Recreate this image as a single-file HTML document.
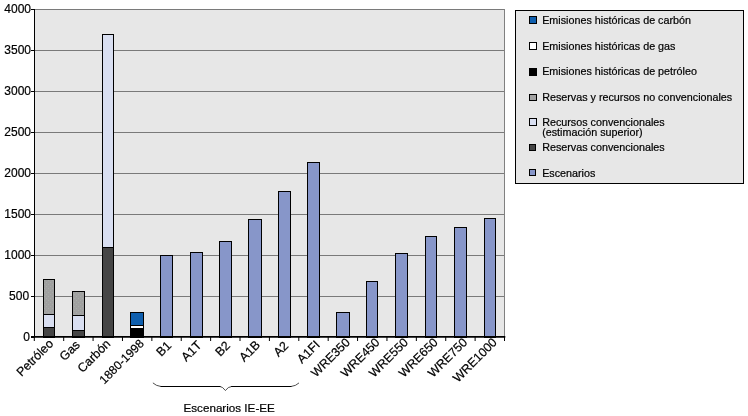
<!DOCTYPE html>
<html lang="es"><head><meta charset="utf-8"><title>Escenarios IE-EE</title>
<style>html,body{margin:0;padding:0;background:#fff;overflow:hidden}svg{will-change:transform}svg text{font-family:"Liberation Sans",Arial,sans-serif;fill:#000;stroke:#000;stroke-width:0.2px}</style></head>
<body>
<svg width="748" height="416" viewBox="0 0 748 416" style="display:block">
<defs><pattern id="dots" width="4" height="4" patternUnits="userSpaceOnUse"><rect width="4" height="4" fill="#a0a0a0"/><rect x="0" y="0" width="1" height="1" fill="#a7aea7"/><rect x="2" y="2" width="1" height="1" fill="#a7aea7"/></pattern></defs>
<rect x="0" y="0" width="748" height="416" fill="#ffffff"/>
<rect x="34" y="9" width="471" height="328" fill="#e7e7e7"/>
<rect x="34" y="296" width="471" height="1" fill="#7a7a7a"/>
<rect x="34" y="255" width="471" height="1" fill="#7a7a7a"/>
<rect x="34" y="214" width="471" height="1" fill="#7a7a7a"/>
<rect x="34" y="173" width="471" height="1" fill="#7a7a7a"/>
<rect x="34" y="132" width="471" height="1" fill="#7a7a7a"/>
<rect x="34" y="91" width="471" height="1" fill="#7a7a7a"/>
<rect x="34" y="50" width="471" height="1" fill="#7a7a7a"/>
<rect x="34" y="9" width="471" height="1" fill="#7a7a7a"/>
<rect x="504" y="9" width="1" height="328" fill="#808080"/>
<rect x="43.5" y="327.5" width="11" height="10" fill="#454545" stroke="#000" stroke-width="1"/>
<rect x="43.5" y="314.5" width="11" height="13" fill="#d9dff1" stroke="#000" stroke-width="1"/>
<rect x="43.5" y="279.5" width="11" height="35" fill="url(#dots)" stroke="#000" stroke-width="1"/>
<rect x="72.5" y="330.5" width="12" height="7" fill="#454545" stroke="#000" stroke-width="1"/>
<rect x="72.5" y="315.5" width="12" height="15" fill="#d9dff1" stroke="#000" stroke-width="1"/>
<rect x="72.5" y="291.5" width="12" height="24" fill="url(#dots)" stroke="#000" stroke-width="1"/>
<rect x="102.5" y="247.5" width="11" height="90" fill="#454545" stroke="#000" stroke-width="1"/>
<rect x="102.5" y="34.5" width="11" height="213" fill="#d9dff1" stroke="#000" stroke-width="1"/>
<rect x="130.5" y="328.5" width="13" height="9" fill="#000000" stroke="#000" stroke-width="1"/>
<rect x="130.5" y="325.5" width="13" height="3" fill="#ffffff" stroke="#000" stroke-width="1"/>
<rect x="130.5" y="312.5" width="13" height="13" fill="#0f5fae" stroke="#000" stroke-width="1"/>
<rect x="160.5" y="255.5" width="12" height="82" fill="#8796c9" stroke="#000" stroke-width="1"/>
<rect x="190.5" y="252.5" width="12" height="85" fill="#8796c9" stroke="#000" stroke-width="1"/>
<rect x="219.5" y="241.5" width="12" height="96" fill="#8796c9" stroke="#000" stroke-width="1"/>
<rect x="248.5" y="219.5" width="13" height="118" fill="#8796c9" stroke="#000" stroke-width="1"/>
<rect x="278.5" y="191.5" width="12" height="146" fill="#8796c9" stroke="#000" stroke-width="1"/>
<rect x="307.5" y="162.5" width="12" height="175" fill="#8796c9" stroke="#000" stroke-width="1"/>
<rect x="336.5" y="312.5" width="13" height="25" fill="#8796c9" stroke="#000" stroke-width="1"/>
<rect x="366.5" y="281.5" width="11" height="56" fill="#8796c9" stroke="#000" stroke-width="1"/>
<rect x="395.5" y="253.5" width="12" height="84" fill="#8796c9" stroke="#000" stroke-width="1"/>
<rect x="425.5" y="236.5" width="11" height="101" fill="#8796c9" stroke="#000" stroke-width="1"/>
<rect x="454.5" y="227.5" width="12" height="110" fill="#8796c9" stroke="#000" stroke-width="1"/>
<rect x="484.5" y="218.5" width="11" height="119" fill="#8796c9" stroke="#000" stroke-width="1"/>
<rect x="34" y="9" width="1" height="329" fill="#000"/>
<rect x="31" y="336" width="474.3" height="1.75" fill="#000"/>
<rect x="31" y="337" width="3" height="1" fill="#000"/>
<text x="30.0" y="341.0" font-size="12" text-anchor="end">0</text>
<rect x="31" y="296" width="3" height="1" fill="#000"/>
<text x="29.1" y="300.0" font-size="12" text-anchor="end">500</text>
<rect x="31" y="255" width="3" height="1" fill="#000"/>
<text x="31" y="259.0" font-size="12" text-anchor="end">1000</text>
<rect x="31" y="214" width="3" height="1" fill="#000"/>
<text x="31" y="218.0" font-size="12" text-anchor="end">1500</text>
<rect x="31" y="173" width="3" height="1" fill="#000"/>
<text x="31" y="177.0" font-size="12" text-anchor="end">2000</text>
<rect x="31" y="132" width="3" height="1" fill="#000"/>
<text x="31" y="136.0" font-size="12" text-anchor="end">2500</text>
<rect x="31" y="91" width="3" height="1" fill="#000"/>
<text x="31" y="95.0" font-size="12" text-anchor="end">3000</text>
<rect x="31" y="50" width="3" height="1" fill="#000"/>
<text x="31" y="54.0" font-size="12" text-anchor="end">3500</text>
<rect x="31" y="9" width="3" height="1" fill="#000"/>
<text x="31" y="13.0" font-size="12" text-anchor="end">4000</text>
<rect x="33.80" y="337" width="1" height="4" fill="#000"/>
<rect x="63.19" y="337" width="1" height="4" fill="#000"/>
<rect x="92.57" y="337" width="1" height="4" fill="#000"/>
<rect x="121.96" y="337" width="1" height="4" fill="#000"/>
<rect x="151.35" y="337" width="1" height="4" fill="#000"/>
<rect x="180.74" y="337" width="1" height="4" fill="#000"/>
<rect x="210.12" y="337" width="1" height="4" fill="#000"/>
<rect x="239.51" y="337" width="1" height="4" fill="#000"/>
<rect x="268.90" y="337" width="1" height="4" fill="#000"/>
<rect x="298.29" y="337" width="1" height="4" fill="#000"/>
<rect x="327.68" y="337" width="1" height="4" fill="#000"/>
<rect x="357.06" y="337" width="1" height="4" fill="#000"/>
<rect x="386.45" y="337" width="1" height="4" fill="#000"/>
<rect x="415.84" y="337" width="1" height="4" fill="#000"/>
<rect x="445.23" y="337" width="1" height="4" fill="#000"/>
<rect x="474.61" y="337" width="1" height="4" fill="#000"/>
<rect x="504.00" y="337" width="1" height="4" fill="#000"/>
<text x="54.10" y="344.40" font-size="12.4" stroke-width="0.1" text-anchor="end" transform="rotate(-45 54.10 344.40)">Petróleo</text>
<text x="80.69" y="345.50" font-size="12.4" stroke-width="0.1" text-anchor="end" transform="rotate(-45 80.69 345.50)">Gas</text>
<text x="111.18" y="344.50" font-size="12.4" stroke-width="0.1" text-anchor="end" transform="rotate(-45 111.18 344.50)">Carbón</text>
<text x="144.76" y="344.20" font-size="12.0" stroke-width="0.1" text-anchor="end" transform="rotate(-45 144.76 344.20)">1880-1998</text>
<text x="172.05" y="346.40" font-size="12.4" stroke-width="0.1" text-anchor="end" transform="rotate(-45 172.05 346.40)">B1</text>
<text x="202.44" y="346.00" font-size="12.4" stroke-width="0.1" text-anchor="end" transform="rotate(-45 202.44 346.00)">A1T</text>
<text x="230.92" y="346.40" font-size="12.4" stroke-width="0.1" text-anchor="end" transform="rotate(-45 230.92 346.40)">B2</text>
<text x="260.91" y="345.70" font-size="12.4" stroke-width="0.1" text-anchor="end" transform="rotate(-45 260.91 345.70)">A1B</text>
<text x="289.20" y="346.50" font-size="12.4" stroke-width="0.1" text-anchor="end" transform="rotate(-45 289.20 346.50)">A2</text>
<text x="320.59" y="345.50" font-size="12.4" stroke-width="0.1" text-anchor="end" transform="rotate(-45 320.59 345.50)">A1FI</text>
<text x="350.77" y="343.10" font-size="12.25" stroke-width="0.1" text-anchor="end" transform="rotate(-45 350.77 343.10)">WRE350</text>
<text x="380.46" y="343.10" font-size="12.3" stroke-width="0.1" text-anchor="end" transform="rotate(-45 380.46 343.10)">WRE450</text>
<text x="408.90" y="343.10" font-size="12.3" stroke-width="0.1" text-anchor="end" transform="rotate(-45 408.90 343.10)">WRE550</text>
<text x="438.64" y="343.10" font-size="12.3" stroke-width="0.1" text-anchor="end" transform="rotate(-45 438.64 343.10)">WRE650</text>
<text x="468.03" y="343.10" font-size="12.35" stroke-width="0.1" text-anchor="end" transform="rotate(-45 468.03 343.10)">WRE750</text>
<text x="497.71" y="343.10" font-size="12.35" stroke-width="0.1" text-anchor="end" transform="rotate(-45 497.71 343.10)">WRE1000</text>
<rect x="160.5" y="386" width="60" height="1" fill="#000"/>
<rect x="231" y="386" width="60.5" height="1" fill="#000"/>
<path d="M152.9 382.9 Q156 385.9 161 386.5 M220 386.5 Q222.6 386.7 225.4 390.5 Q228.2 386.7 231.5 386.5 M291 386.5 Q296 385.9 299 382.9" fill="none" stroke="#222" stroke-width="0.8"/>
<text x="183.5" y="411.7" font-size="11.3" textLength="91.3" lengthAdjust="spacingAndGlyphs">Escenarios IE-EE</text>
<rect x="515.5" y="10.5" width="228" height="173" fill="#e7e7e7" stroke="#000" stroke-width="1"/>
<rect x="529.5" y="16.5" width="7" height="7" fill="#0f5fae" stroke="#000" stroke-width="1"/>
<text x="542.2" y="24.0" font-size="10.75">Emisiones históricas de carbón</text>
<rect x="529.5" y="42.5" width="7" height="7" fill="#ffffff" stroke="#000" stroke-width="1"/>
<text x="542.2" y="50.1" font-size="10.75">Emisiones históricas de gas</text>
<rect x="529.5" y="68.5" width="7" height="7" fill="#000000" stroke="#000" stroke-width="1"/>
<text x="542.2" y="75.3" font-size="10.75">Emisiones históricas de petróleo</text>
<rect x="529.5" y="94.5" width="7" height="6" fill="#a2a2a2" stroke="#000" stroke-width="1"/>
<text x="542.2" y="101.2" font-size="10.75">Reservas y recursos no convencionales</text>
<rect x="529.5" y="118.5" width="7" height="7" fill="#d9dff1" stroke="#000" stroke-width="1"/>
<text x="542.2" y="126.1" font-size="10.75">Recursos convencionales</text>
<text x="542.2" y="135.7" font-size="10.75">(estimación superior)</text>
<rect x="529.5" y="144.5" width="6" height="6" fill="#454545" stroke="#000" stroke-width="1"/>
<text x="542.2" y="151.2" font-size="10.75">Reservas convencionales</text>
<rect x="529.5" y="169.5" width="6" height="6" fill="#8796c9" stroke="#000" stroke-width="1"/>
<text x="542.2" y="177.2" font-size="10.75">Escenarios</text>
</svg>
</body></html>
